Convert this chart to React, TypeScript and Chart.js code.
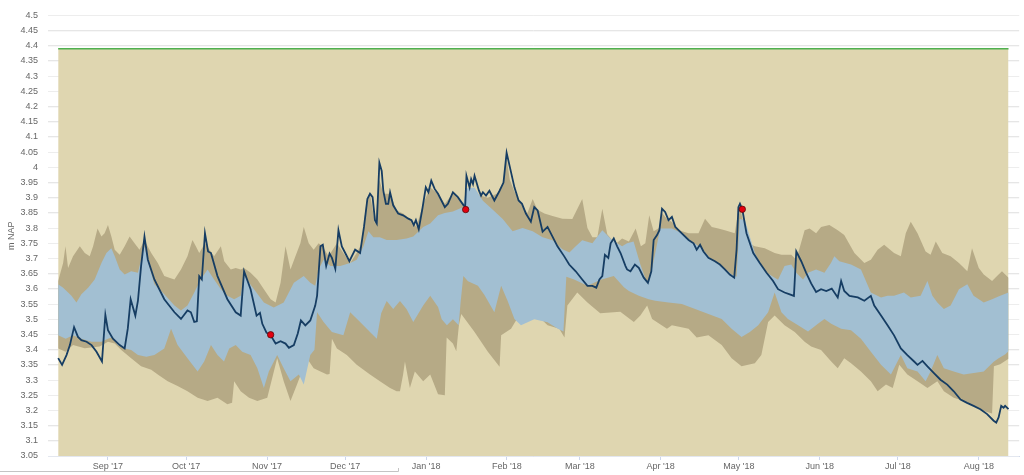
import React, { useEffect, useRef } from 'react';
import { Chart, registerables } from 'chart.js';

Chart.register(...registerables);

// x values are days counted from 1 Sep 2017
const monthDays = [0, 30, 61, 91, 122, 153, 181, 212, 242, 273, 303, 334];
const monthLabels = ["Sep '17", "Oct '17", "Nov '17", "Dec '17", "Jan '18", "Feb '18", "Mar '18", "Apr '18", "May '18", "Jun '18", "Jul '18", "Aug '18"];

const yTickValues = [3.05, 3.1, 3.15, 3.2, 3.25, 3.3, 3.35, 3.4, 3.45, 3.5, 3.55, 3.6, 3.65, 3.7, 3.75, 3.8, 3.85, 3.9, 3.95, 4.0, 4.05, 4.1, 4.15, 4.2, 4.25, 4.3, 4.35, 4.4, 4.45, 4.5];

const axisTitle = 'm NAP';

// reference level (top of the band background)
const refDays = [-19.1, 345.4];
const refLevels = [4.39, 4.39];

// measured water level
const obsDays = [-19.1, -17.6, -15.9, -14.6, -13.0, -11.5, -10.2, -8.2, -6.3, -4.4, -2.3, -1.0, 0, 1.9, 4.5, 6.4, 7.6, 8.7, 10.5, 11.5, 12.7, 14.0, 15.3, 17.8, 21.6, 25.5, 28.0, 30.5, 31.8, 33.1, 34.1, 35.0, 36.0, 37.2, 38.4, 39.5, 42.0, 45.8, 49.0, 50.9, 52.2, 54.7, 57.0, 58.3, 59.2, 60.8, 62.4, 64.3, 66.2, 68.1, 69.4, 71.3, 72.8, 74.0, 75.7, 77.6, 79.5, 80.2, 81.5, 82.4, 83.7, 85.0, 85.9, 87.2, 88.4, 89.7, 91.0, 92.6, 94.8, 96.7, 98.2, 99.5, 100.5, 101.5, 102.4, 103.1, 104.1, 105.0, 105.6, 106.6, 107.5, 108.2, 109.4, 111.3, 113.2, 115.2, 116.4, 117.3, 118.1, 119.2, 120.6, 121.9, 122.9, 124.0, 125.3, 126.6, 129.2, 130.4, 132.3, 134.2, 136.4, 137.0, 137.5, 138.7, 139.3, 140.0, 140.6, 142.3, 143.1, 143.8, 145.0, 146.3, 148.2, 150.2, 151.7, 152.9, 154.2, 155.9, 157.5, 158.8, 160.3, 162.2, 163.5, 164.8, 166.7, 168.6, 170.5, 172.4, 175.0, 176.9, 179.4, 181.9, 183.9, 185.8, 187.3, 188.5, 189.6, 190.6, 191.9, 192.8, 194.0, 195.3, 196.6, 198.5, 199.1, 200.4, 202.1, 203.6, 205.5, 207.1, 208.4, 209.3, 210.6, 211.5, 212.5, 213.7, 215.0, 216.3, 217.6, 220.1, 222.7, 224.6, 225.8, 227.1, 228.4, 230.3, 232.8, 234.7, 236.6, 238.5, 240.2, 241.1, 241.8, 242.4, 243.3, 244.9, 247.5, 250.0, 252.6, 255.1, 257.0, 259.5, 261.5, 263.1, 264.0, 265.9, 267.8, 269.7, 271.6, 273.5, 275.5, 277.6, 279.9, 281.2, 282.4, 284.4, 287.6, 290.1, 292.6, 293.9, 296.5, 299.0, 301.5, 304.1, 306.6, 309.2, 310.5, 312.4, 314.3, 316.8, 319.3, 321.9, 324.4, 327.0, 329.5, 332.0, 334.6, 337.2, 339.7, 340.7, 341.6, 342.6, 343.5, 344.1, 345.4];
const obsLevels = [3.372, 3.350, 3.382, 3.415, 3.474, 3.442, 3.431, 3.426, 3.415, 3.393, 3.361, 3.514, 3.464, 3.436, 3.415, 3.404, 3.469, 3.566, 3.512, 3.561, 3.675, 3.772, 3.696, 3.631, 3.566, 3.523, 3.501, 3.529, 3.523, 3.491, 3.493, 3.642, 3.631, 3.783, 3.723, 3.718, 3.642, 3.566, 3.523, 3.512, 3.658, 3.599, 3.512, 3.521, 3.485, 3.456, 3.447, 3.420, 3.428, 3.420, 3.406, 3.415, 3.453, 3.496, 3.480, 3.496, 3.545, 3.577, 3.740, 3.745, 3.675, 3.716, 3.702, 3.666, 3.793, 3.740, 3.718, 3.691, 3.729, 3.718, 3.804, 3.896, 3.913, 3.902, 3.826, 3.815, 4.015, 3.988, 3.923, 3.880, 3.880, 3.918, 3.875, 3.848, 3.842, 3.831, 3.826, 3.810, 3.826, 3.796, 3.864, 3.934, 3.918, 3.956, 3.929, 3.913, 3.869, 3.880, 3.918, 3.902, 3.875, 3.870, 3.972, 3.934, 3.961, 3.945, 3.972, 3.923, 3.907, 3.918, 3.907, 3.923, 3.891, 3.923, 3.950, 4.048, 3.999, 3.934, 3.891, 3.880, 3.848, 3.821, 3.869, 3.858, 3.788, 3.804, 3.772, 3.740, 3.707, 3.680, 3.658, 3.631, 3.610, 3.610, 3.604, 3.631, 3.642, 3.712, 3.702, 3.750, 3.766, 3.740, 3.718, 3.675, 3.664, 3.658, 3.680, 3.669, 3.637, 3.620, 3.658, 3.761, 3.777, 3.793, 3.864, 3.853, 3.826, 3.837, 3.804, 3.783, 3.761, 3.750, 3.729, 3.745, 3.723, 3.702, 3.691, 3.680, 3.664, 3.647, 3.637, 3.729, 3.869, 3.880, 3.862, 3.783, 3.718, 3.685, 3.653, 3.626, 3.599, 3.588, 3.582, 3.577, 3.723, 3.691, 3.653, 3.618, 3.590, 3.599, 3.593, 3.601, 3.572, 3.626, 3.593, 3.577, 3.572, 3.561, 3.577, 3.545, 3.512, 3.480, 3.447, 3.404, 3.382, 3.361, 3.350, 3.363, 3.345, 3.323, 3.301, 3.285, 3.263, 3.236, 3.225, 3.215, 3.204, 3.188, 3.166, 3.160, 3.177, 3.215, 3.209, 3.215, 3.204];

// manual measurements (red dots)
const dotDays = [62.4, 137.2, 243.3];
const dotLevels = [3.449, 3.861, 3.862];

// outer band (brown) upper / lower edge
const outerUpperDays = [-19.1, -17.2, -16.3, -15.3, -13.4, -10.8, -8.9, -7.0, -5.7, -4.0, -2.5, -1.3, 0, 1.3, 2.6, 4.5, 6.4, 8.3, 10.2, 12.1, 14.0, 16.6, 19.1, 21.6, 23.5, 25.5, 28.0, 30.5, 32.4, 33.7, 35.0, 37.2, 40.7, 43.3, 44.6, 47.1, 49.0, 50.9, 52.2, 54.7, 57.3, 59.8, 62.4, 64.3, 66.2, 68.1, 70.0, 71.9, 73.8, 75.1, 77.0, 78.9, 80.8, 82.3, 84.6, 87.8, 90.3, 92.9, 95.4, 97.3, 99.2, 100.5, 102.4, 104.1, 105.6, 108.2, 110.7, 113.2, 115.8, 118.3, 120.9, 123.6, 126.6, 129.2, 132.3, 136.1, 138.1, 141.9, 145.7, 149.5, 151.4, 152.9, 154.1, 155.9, 159.0, 160.9, 162.9, 164.7, 167.4, 170.5, 174.3, 178.1, 181.9, 183.9, 185.8, 187.7, 189.6, 191.5, 193.4, 195.3, 197.2, 199.8, 202.4, 204.4, 206.1, 207.6, 209.3, 211.4, 212.5, 214.4, 216.3, 218.9, 222.7, 226.5, 229.0, 231.6, 234.1, 236.6, 240.4, 241.8, 242.4, 243.4, 245.6, 248.1, 251.9, 255.7, 258.3, 262.1, 264.0, 267.2, 269.1, 271.6, 273.5, 276.7, 279.9, 282.4, 286.3, 290.1, 292.6, 295.2, 297.7, 301.5, 304.1, 306.0, 307.9, 310.5, 313.6, 315.5, 317.5, 320.0, 323.2, 326.4, 329.6, 331.4, 334.0, 335.9, 339.1, 341.0, 342.9, 345.4];
const outerUpperLevels = [3.626, 3.685, 3.740, 3.669, 3.707, 3.740, 3.718, 3.707, 3.740, 3.799, 3.772, 3.783, 3.810, 3.772, 3.729, 3.712, 3.740, 3.772, 3.750, 3.729, 3.760, 3.718, 3.685, 3.642, 3.637, 3.631, 3.664, 3.707, 3.761, 3.740, 3.718, 3.750, 3.707, 3.740, 3.691, 3.664, 3.669, 3.664, 3.669, 3.653, 3.631, 3.599, 3.566, 3.555, 3.620, 3.740, 3.664, 3.707, 3.750, 3.804, 3.750, 3.729, 3.750, 3.740, 3.707, 3.750, 3.718, 3.685, 3.718, 3.750, 3.891, 3.913, 3.815, 3.960, 3.913, 3.913, 3.858, 3.848, 3.831, 3.804, 3.880, 3.934, 3.913, 3.880, 3.915, 3.880, 3.900, 3.910, 3.900, 3.915, 3.940, 4.030, 3.960, 3.920, 3.870, 3.850, 3.896, 3.860, 3.848, 3.840, 3.831, 3.830, 3.896, 3.800, 3.770, 3.770, 3.864, 3.780, 3.760, 3.752, 3.766, 3.756, 3.799, 3.740, 3.750, 3.842, 3.790, 3.800, 3.850, 3.830, 3.820, 3.793, 3.783, 3.783, 3.831, 3.804, 3.799, 3.793, 3.783, 3.860, 3.870, 3.830, 3.750, 3.740, 3.734, 3.718, 3.712, 3.712, 3.696, 3.793, 3.799, 3.783, 3.804, 3.810, 3.793, 3.777, 3.718, 3.685, 3.696, 3.729, 3.745, 3.718, 3.707, 3.783, 3.821, 3.783, 3.723, 3.712, 3.756, 3.718, 3.707, 3.685, 3.658, 3.734, 3.669, 3.647, 3.626, 3.642, 3.658, 3.637];

const outerLowerDays = [-19.1, -16.2, -13.4, -8.9, -3.2, 0, 2.6, 5.1, 8.9, 12.7, 16.6, 19.1, 22.9, 26.7, 30.5, 34.4, 38.2, 42.0, 45.8, 47.6, 48.4, 50.9, 54.1, 57.3, 61.1, 64.9, 67.4, 70.0, 72.5, 76.3, 78.9, 81.5, 84.0, 85.0, 85.9, 87.8, 91.6, 95.4, 100.5, 104.3, 108.2, 110.7, 112.0, 113.2, 113.9, 115.8, 117.7, 120.9, 123.6, 126.6, 129.2, 129.9, 132.3, 133.6, 134.6, 135.5, 140.6, 145.7, 150.2, 150.8, 154.6, 158.4, 163.5, 168.6, 173.1, 175.1, 176.2, 180.0, 183.9, 188.8, 196.5, 201.7, 204.2, 206.8, 208.7, 214.4, 216.3, 222.7, 225.8, 230.3, 235.4, 239.2, 243.0, 248.1, 250.6, 253.2, 255.7, 259.5, 263.4, 267.2, 269.7, 273.5, 277.4, 279.9, 282.4, 285.0, 288.8, 292.6, 295.2, 298.4, 301.0, 303.5, 306.6, 310.5, 314.3, 318.1, 320.6, 324.4, 328.2, 332.1, 335.9, 339.1, 339.8, 342.2, 345.4];
const outerLowerLevels = [3.404, 3.393, 3.415, 3.405, 3.410, 3.426, 3.420, 3.399, 3.372, 3.345, 3.334, 3.318, 3.296, 3.280, 3.263, 3.242, 3.231, 3.242, 3.220, 3.225, 3.296, 3.263, 3.242, 3.231, 3.242, 3.372, 3.296, 3.231, 3.285, 3.372, 3.339, 3.328, 3.318, 3.320, 3.436, 3.404, 3.382, 3.350, 3.318, 3.296, 3.274, 3.263, 3.263, 3.318, 3.361, 3.274, 3.328, 3.296, 3.318, 3.253, 3.250, 3.440, 3.420, 3.395, 3.480, 3.517, 3.458, 3.393, 3.344, 3.447, 3.469, 3.523, 3.523, 3.480, 3.469, 3.440, 3.545, 3.588, 3.555, 3.520, 3.525, 3.491, 3.512, 3.545, 3.501, 3.469, 3.480, 3.469, 3.440, 3.447, 3.415, 3.372, 3.345, 3.355, 3.382, 3.491, 3.512, 3.480, 3.458, 3.426, 3.410, 3.399, 3.361, 3.339, 3.372, 3.355, 3.328, 3.296, 3.263, 3.285, 3.274, 3.350, 3.318, 3.296, 3.274, 3.296, 3.263, 3.242, 3.231, 3.215, 3.198, 3.190, 3.345, 3.352, 3.370];

// inner band (blue) upper / lower edge
const innerUpperDays = [-19.1, -17.2, -14.0, -12.1, -10.2, -7.6, -5.1, -2.5, -0.6, 1.3, 2.6, 4.5, 6.4, 8.9, 11.5, 13.0, 14.0, 15.3, 17.8, 21.6, 25.5, 28.0, 30.5, 33.1, 35.6, 38.2, 40.7, 43.3, 45.8, 48.4, 50.9, 52.2, 56.0, 59.8, 63.6, 67.4, 71.3, 75.1, 77.6, 79.5, 80.8, 82.7, 85.3, 89.1, 92.9, 95.4, 98.0, 99.9, 101.8, 104.3, 106.9, 110.7, 114.5, 117.1, 120.9, 123.6, 126.6, 129.2, 132.3, 136.1, 137.4, 140.6, 143.8, 147.6, 151.4, 155.2, 159.0, 162.9, 166.7, 170.5, 174.3, 177.0, 179.4, 181.9, 185.8, 189.6, 193.4, 197.2, 199.1, 201.6, 204.2, 206.7, 208.3, 211.8, 216.3, 220.1, 223.9, 227.7, 231.5, 235.4, 239.2, 241.1, 242.3, 244.3, 248.1, 251.9, 255.1, 257.0, 259.5, 262.1, 264.0, 266.6, 268.5, 271.6, 274.8, 277.3, 278.6, 280.5, 285.0, 288.8, 292.6, 296.5, 299.0, 301.5, 305.3, 307.9, 311.7, 314.3, 316.2, 318.1, 320.6, 323.2, 326.4, 329.6, 332.0, 335.9, 339.1, 342.2, 345.4];
const innerUpperLevels = [3.615, 3.604, 3.577, 3.555, 3.582, 3.604, 3.631, 3.685, 3.718, 3.734, 3.707, 3.664, 3.647, 3.658, 3.653, 3.707, 3.740, 3.690, 3.615, 3.582, 3.545, 3.529, 3.545, 3.588, 3.631, 3.664, 3.631, 3.599, 3.577, 3.566, 3.577, 3.642, 3.599, 3.555, 3.539, 3.555, 3.620, 3.642, 3.620, 3.610, 3.664, 3.696, 3.675, 3.675, 3.685, 3.696, 3.740, 3.790, 3.770, 3.770, 3.761, 3.761, 3.766, 3.772, 3.804, 3.815, 3.842, 3.850, 3.855, 3.869, 3.930, 3.934, 3.890, 3.860, 3.830, 3.790, 3.800, 3.790, 3.770, 3.760, 3.730, 3.720, 3.740, 3.760, 3.750, 3.793, 3.760, 3.740, 3.750, 3.756, 3.680, 3.620, 3.650, 3.799, 3.799, 3.783, 3.756, 3.734, 3.696, 3.675, 3.647, 3.640, 3.830, 3.826, 3.718, 3.658, 3.640, 3.630, 3.675, 3.680, 3.653, 3.631, 3.653, 3.664, 3.653, 3.685, 3.707, 3.691, 3.680, 3.664, 3.588, 3.572, 3.577, 3.577, 3.588, 3.572, 3.577, 3.626, 3.577, 3.555, 3.534, 3.545, 3.599, 3.615, 3.577, 3.555, 3.566, 3.577, 3.588];

const innerLowerDays = [-19.1, -16.2, -13.4, -10.2, -6.3, -2.5, 0, 1.9, 3.8, 6.4, 8.9, 11.5, 14.7, 17.8, 21.6, 24.2, 26.7, 30.5, 34.4, 36.9, 39.5, 42.0, 44.5, 46.5, 49.0, 51.5, 54.7, 57.3, 59.8, 61.7, 64.9, 67.4, 70.0, 73.2, 75.1, 77.6, 79.2, 80.2, 82.7, 85.9, 90.3, 92.9, 96.7, 100.5, 103.1, 104.8, 106.9, 109.4, 112.0, 114.5, 117.1, 120.9, 123.6, 126.6, 128.0, 130.0, 132.3, 134.5, 135.3, 136.3, 138.1, 141.9, 144.4, 148.2, 150.8, 153.3, 155.9, 158.4, 163.5, 168.6, 172.4, 174.7, 175.8, 178.8, 183.9, 189.0, 194.0, 197.9, 199.8, 203.6, 207.4, 209.9, 215.0, 220.1, 225.2, 230.3, 235.4, 239.2, 243.0, 246.2, 249.4, 253.2, 255.7, 258.3, 260.8, 264.7, 268.5, 272.3, 274.8, 277.4, 281.2, 285.0, 288.8, 292.6, 296.5, 300.3, 304.1, 306.6, 310.5, 313.6, 315.5, 318.1, 320.6, 324.4, 328.2, 332.1, 335.9, 339.7, 341.6, 344.2, 345.4];
const innerLowerLevels = [3.447, 3.436, 3.447, 3.436, 3.426, 3.426, 3.436, 3.442, 3.415, 3.404, 3.399, 3.382, 3.377, 3.382, 3.404, 3.469, 3.415, 3.372, 3.328, 3.361, 3.415, 3.382, 3.361, 3.404, 3.415, 3.393, 3.382, 3.339, 3.274, 3.328, 3.382, 3.339, 3.296, 3.318, 3.285, 3.382, 3.400, 3.523, 3.491, 3.458, 3.447, 3.523, 3.491, 3.458, 3.436, 3.520, 3.560, 3.534, 3.560, 3.534, 3.491, 3.545, 3.577, 3.540, 3.500, 3.480, 3.500, 3.480, 3.560, 3.642, 3.625, 3.610, 3.580, 3.523, 3.610, 3.560, 3.501, 3.480, 3.500, 3.490, 3.470, 3.460, 3.640, 3.631, 3.610, 3.630, 3.642, 3.605, 3.593, 3.577, 3.566, 3.561, 3.555, 3.550, 3.534, 3.517, 3.501, 3.469, 3.442, 3.458, 3.480, 3.523, 3.588, 3.523, 3.501, 3.480, 3.460, 3.485, 3.501, 3.485, 3.469, 3.464, 3.436, 3.393, 3.350, 3.318, 3.382, 3.339, 3.328, 3.296, 3.328, 3.382, 3.339, 3.328, 3.318, 3.323, 3.328, 3.360, 3.372, 3.385, 3.395];

const toPoints = (days: number[], levels: number[]) => days.map((d, i) => ({ x: d, y: levels[i] }));

const FONT = { family: "'Liberation Sans', Arial, sans-serif", size: 9 };

export default function App() {
  const canvasRef = useRef<HTMLCanvasElement | null>(null);

  useEffect(() => {
    const canvas = canvasRef.current;
    if (!canvas) return;

    const gridOverlay = {
      id: 'gridOverlay',
      beforeDatasetsDraw(chart: any) {
        const { ctx, chartArea, scales } = chart;
        const y = scales.y;
        ctx.save();
        ctx.strokeStyle = 'rgba(242,242,242,0.6)';
        ctx.lineWidth = 1;
        y.ticks.forEach((t: any) => {
          const py = Math.round(y.getPixelForValue(t.value)) + 0.5;
          ctx.beginPath();
          ctx.moveTo(chartArea.left, py);
          ctx.lineTo(chartArea.right, py);
          ctx.stroke();
        });
        ctx.restore();
      },
      afterDraw(chart: any) {
        const { ctx } = chart;
        ctx.save();
        ctx.strokeStyle = '#c4c4c4';
        ctx.lineWidth = 1;
        ctx.beginPath();
        ctx.moveTo(0, 471.5);
        ctx.lineTo(398.5, 471.5);
        ctx.lineTo(398.5, 468);
        ctx.stroke();
        ctx.restore();
      },
    };

    const chart = new Chart(canvas, {
      type: 'line',
      data: {
        datasets: [
          {
            label: 'metingen',
            data: toPoints(dotDays, dotLevels),
            showLine: false,
            pointRadius: 3.2,
            pointBackgroundColor: '#e3000f',
            pointBorderColor: '#5a0a0a',
            pointBorderWidth: 0.8,
            fill: false,
          },
          {
            label: 'waterstand',
            data: toPoints(obsDays, obsLevels),
            borderColor: '#163d63',
            borderWidth: 1.8,
            pointRadius: 0,
            fill: false,
          },
          {
            label: 'inner-upper',
            data: toPoints(innerUpperDays, innerUpperLevels),
            borderWidth: 0,
            borderColor: 'rgba(0,0,0,0)',
            backgroundColor: '#a2bfd2',
            pointRadius: 0,
            fill: '+1',
          },
          {
            label: 'inner-lower',
            data: toPoints(innerLowerDays, innerLowerLevels),
            borderWidth: 0,
            borderColor: 'rgba(0,0,0,0)',
            pointRadius: 0,
            fill: false,
          },
          {
            label: 'outer-upper',
            data: toPoints(outerUpperDays, outerUpperLevels),
            borderWidth: 0,
            borderColor: 'rgba(0,0,0,0)',
            backgroundColor: '#b6aa86',
            pointRadius: 0,
            fill: '+1',
          },
          {
            label: 'outer-lower',
            data: toPoints(outerLowerDays, outerLowerLevels),
            borderWidth: 0,
            borderColor: 'rgba(0,0,0,0)',
            pointRadius: 0,
            fill: false,
          },
          {
            label: 'referentie',
            data: toPoints(refDays, refLevels),
            borderColor: '#4fb04f',
            borderWidth: 1.5,
            backgroundColor: '#dfd6b0',
            pointRadius: 0,
            fill: 'start',
          },
        ],
      },
      options: {
        responsive: false,
        devicePixelRatio: 1,
        animation: false,
        events: [],
        layout: { padding: { top: 9, right: 0, bottom: 0, left: 0 } },
        elements: { line: { tension: 0 } },
        plugins: {
          legend: { display: false },
          tooltip: { enabled: false },
        },
        scales: {
          x: {
            type: 'linear',
            min: -23,
            max: 349.5,
            afterBuildTicks: (scale: any) => {
              scale.ticks = monthDays.map((v) => ({ value: v }));
            },
            afterFit: (scale: any) => {
              scale.height = 19;
            },
            ticks: {
              autoSkip: false,
              maxRotation: 0,
              minRotation: 0,
              padding: 1,
              color: '#666666',
              font: FONT,
              callback: (_v: any, i: number) => monthLabels[i],
            },
            grid: {
              drawOnChartArea: false,
              drawTicks: true,
              tickLength: 4,
              color: '#ccd6eb',
            },
            border: { display: true, color: '#ccd6eb' },
          },
          y: {
            type: 'linear',
            min: 3.05,
            max: 4.5,
            afterBuildTicks: (scale: any) => {
              scale.ticks = yTickValues.map((v) => ({ value: v }));
            },
            afterFit: (scale: any) => {
              scale.width = 48;
            },
            ticks: {
              autoSkip: false,
              padding: 10,
              color: '#666666',
              font: FONT,
              callback: (v: any) => String(Math.round(Number(v) * 100) / 100),
            },
            grid: { color: '#e6e6e6', drawTicks: false },
            border: { display: false },
            title: {
              display: true,
              text: axisTitle,
              color: '#666666',
              font: FONT,
              padding: { top: 6, bottom: 0 },
            },
          },
        },
      },
      plugins: [gridOverlay],
    } as any);

    return () => {
      chart.destroy();
    };
  }, []);

  return (
    <div style={{ position: 'absolute', left: 0, top: 0, width: 1024, height: 475, background: '#ffffff' }}>
      <canvas ref={canvasRef} width={1024} height={475} style={{ display: 'block' }} />
    </div>
  );
}
